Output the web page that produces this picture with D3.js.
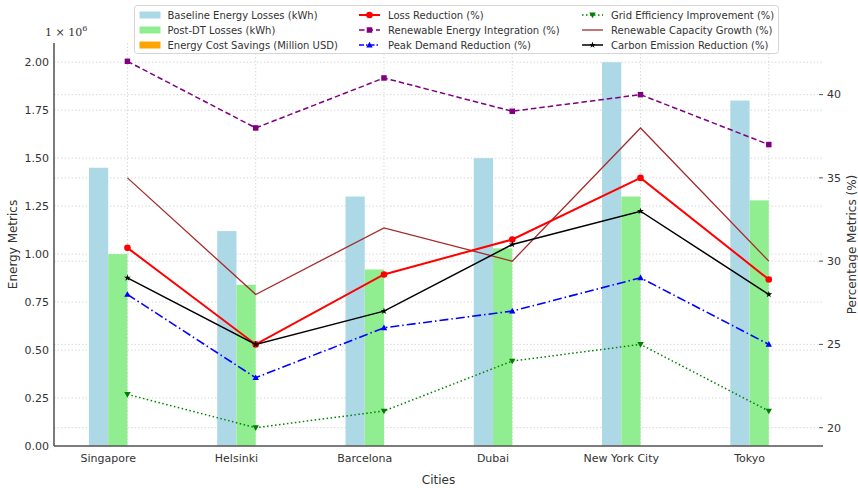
<!DOCTYPE html>
<html><head><meta charset="utf-8">
<script src="https://cdn.jsdelivr.net/npm/d3@7"></script>
<style>
body{margin:0;background:#fff;}
svg{display:block;font-family:"DejaVu Sans",sans-serif;}
</style></head>
<body><svg id="c" width="858" height="488"></svg>
<script>
const cities = ["Singapore","Helsinki","Barcelona","Dubai","New York City","Tokyo"];
const baselineLosses = [1.45e6,1.12e6,1.30e6,1.50e6,2.00e6,1.80e6];
const postDTLosses = [1.00e6,0.84e6,0.92e6,1.03e6,1.30e6,1.28e6];
const lossReduction = [30.8,25.0,29.2,31.3,35.0,28.9];
const renewableIntegration = [42,38,41,39,40,37];
const peakDemandReduction = [28,23,26,27,29,25];
const gridEfficiency = [22,20,21,24,25,21];
const renewableCapacityGrowth = [35,28,32,30,38,30];
const carbonReduction = [29,25,27,31,33,28];
const leftTicks = [0,0.25e6,0.5e6,0.75e6,1.0e6,1.25e6,1.5e6,1.75e6,2.0e6];
const rightTicks = [20,25,30,35,40];

const svg = d3.select("#c");
const L=54, R=823, T=43, B=446;
const w = 0.15;
const xMin = -w, xMax = cities.length-1+2*w, pad=(xMax-xMin)*0.05;
const x = d3.scaleLinear().domain([xMin-pad, xMax+pad]).range([L,R]);
const yL = d3.scaleLinear().domain([0, 2.1e6]).range([B,T]);
const yR = d3.scaleLinear().domain([18.9, 43.1]).range([B,T]);

// grids
const g = svg.append("g");
g.selectAll(".gl").data(leftTicks).join("line")
 .attr("x1",L).attr("x2",R-1).attr("y1",d=>yL(d)).attr("y2",d=>yL(d))
 .attr("stroke","#cfcfcf").attr("stroke-width",0.8).attr("stroke-dasharray","1.5,2");
g.selectAll(".gr").data(rightTicks).join("line")
 .attr("x1",L).attr("x2",R-1).attr("y1",d=>yR(d)).attr("y2",d=>yR(d))
 .attr("stroke","#cfcfcf").attr("stroke-width",0.8).attr("stroke-dasharray","1.5,2");
g.selectAll(".gv").data(cities).join("line")
 .attr("x1",(d,i)=>x(i+w)).attr("x2",(d,i)=>x(i+w)).attr("y1",T).attr("y2",B)
 .attr("stroke","#cfcfcf").attr("stroke-width",0.8).attr("stroke-dasharray","1.5,2");

// bars
svg.append("g").selectAll("rect").data(baselineLosses).join("rect")
 .attr("x",(d,i)=>x(i-w)).attr("width",x(w)-x(0)).attr("y",d=>yL(d)).attr("height",d=>B-yL(d))
 .attr("fill","#add8e6");
svg.append("g").selectAll("rect").data(postDTLosses).join("rect")
 .attr("x",(d,i)=>x(i)).attr("width",x(w)-x(0)).attr("y",d=>yL(d)).attr("height",d=>B-yL(d))
 .attr("fill","#90ee90");

// lines
const series = [
 {name:"Loss Reduction (%)", v:lossReduction, c:"#ff0000", lw:2, dash:null, m:"circle", ms:3.3},
 {name:"Renewable Energy Integration (%)", v:renewableIntegration, c:"#800080", lw:1.5, dash:"5.5,3", m:"square", ms:5.5},
 {name:"Peak Demand Reduction (%)", v:peakDemandReduction, c:"#0000ff", lw:1.6, dash:"9,3,1.5,3", m:"tri", ms:5},
 {name:"Grid Efficiency Improvement (%)", v:gridEfficiency, c:"#008000", lw:1.5, dash:"1.5,2.5", m:"trid", ms:5},
 {name:"Renewable Capacity Growth (%)", v:renewableCapacityGrowth, c:"#a52a2a", lw:1.3, dash:null, m:null},
 {name:"Carbon Emission Reduction (%)", v:carbonReduction, c:"#000000", lw:1.5, dash:null, m:"star", ms:3}
];
const order = [1,4,0,5,2,3];
function marker(sel, s, cx, cy){
  if(!s.m) return;
  if(s.m==="circle") sel.append("circle").attr("cx",cx).attr("cy",cy).attr("r",s.ms).attr("fill",s.c);
  else if(s.m==="square") sel.append("rect").attr("x",cx-s.ms/2).attr("y",cy-s.ms/2).attr("width",s.ms).attr("height",s.ms).attr("fill",s.c);
  else if(s.m==="tri") sel.append("path").attr("d",`M${cx},${cy-3.3}L${cx+3.2},${cy+2.4}L${cx-3.2},${cy+2.4}Z`).attr("fill",s.c);
  else if(s.m==="trid") sel.append("path").attr("d",`M${cx},${cy+3.3}L${cx+3.2},${cy-2.4}L${cx-3.2},${cy-2.4}Z`).attr("fill",s.c);
  else if(s.m==="star") sel.append("path").attr("d",d3.symbol(d3.symbolStar,14)()).attr("transform",`translate(${cx},${cy})`).attr("fill",s.c);
}
const lineGen = d3.line().x((d,i)=>x(i+w)).y(d=>yR(d));
order.forEach(k=>{
  const s = series[k];
  const gg = svg.append("g");
  gg.append("path").attr("d",lineGen(s.v)).attr("fill","none").attr("stroke",s.c)
   .attr("stroke-width",s.lw).attr("stroke-dasharray",s.dash);
  s.v.forEach((d,i)=>marker(gg,s,x(i+w),yR(d)));
});

// spines
svg.append("line").attr("x1",L).attr("x2",L).attr("y1",T).attr("y2",B).attr("stroke","#222").attr("stroke-width",1.2);
svg.append("line").attr("x1",L).attr("x2",R).attr("y1",B).attr("y2",B).attr("stroke","#555").attr("stroke-width",1.5);

// left ticks
svg.append("g").selectAll("text").data(leftTicks).join("text")
 .attr("x",L-5).attr("y",d=>yL(d)).attr("dy","0.35em").attr("text-anchor","end")
 .attr("font-size",11).attr("fill","#333").text(d=>(d/1e6).toFixed(2));
// right ticks
svg.append("g").selectAll("line").data(rightTicks).join("line")
 .attr("x1",R-4).attr("x2",R).attr("y1",d=>yR(d)).attr("y2",d=>yR(d)).attr("stroke","#555");
svg.append("g").selectAll("text").data(rightTicks).join("text")
 .attr("x",R+4).attr("y",d=>yR(d)).attr("dy","0.35em")
 .attr("font-size",11).attr("fill","#333").text(d=>d);
// x ticks
svg.append("g").selectAll("text").data(cities).join("text")
 .attr("x",(d,i)=>x(i)).attr("y",462).attr("text-anchor","middle")
 .attr("font-size",11).attr("fill","#333").text(d=>d);

// axis labels
svg.append("text").attr("x",(L+R)/2).attr("y",484).attr("text-anchor","middle").attr("font-size",12).attr("fill","#333").text("Cities");
svg.append("text").attr("transform",`translate(17,${(T+B)/2}) rotate(-90)`).attr("text-anchor","middle").attr("font-size",12).attr("fill","#333").text("Energy Metrics");
svg.append("text").attr("transform",`translate(856,${(T+B)/2}) rotate(-90)`).attr("text-anchor","middle").attr("font-size",12).attr("fill","#333").text("Percentage Metrics (%)");

// offset text
const off = svg.append("text").attr("x",45).attr("y",36).attr("font-family","DejaVu Serif, serif").attr("font-size",11).attr("fill","#333");
off.append("tspan").text("1 × 10");
off.append("tspan").attr("font-size",8).attr("dy",-5).text("6");

// legend
const lg = svg.append("g");
lg.append("rect").attr("x",134.5).attr("y",5.5).attr("width",644).attr("height",48).attr("rx",3)
 .attr("fill","white").attr("fill-opacity",0.8).attr("stroke","#d5d5d5");
const rows=[15,30,45];
const barLeg = [["Baseline Energy Losses (kWh)","#add8e6"],["Post-DT Losses (kWh)","#90ee90"],["Energy Cost Savings (Million USD)","#ffa500"]];
barLeg.forEach((b,i)=>{
  lg.append("rect").attr("x",139.5).attr("y",rows[i]-3.5).attr("width",21).attr("height",7).attr("fill",b[1]);
  lg.append("text").attr("x",167.5).attr("y",rows[i]).attr("dy","0.35em").attr("font-size",10).attr("fill","#333").text(b[0]);
});
const legCols = [[0,1,2],[3,4,5]];
const colX = [359,582];
legCols.forEach((col,ci)=>{
  col.forEach((k,ri)=>{
    const s=series[k]; const y=rows[ri]; const x0=colX[ci];
    lg.append("line").attr("x1",x0).attr("x2",x0+21).attr("y1",y).attr("y2",y).attr("stroke",s.c)
      .attr("stroke-width",s.lw).attr("stroke-dasharray",s.dash? (s.m==="tri"?"5,2,1.5,2":s.dash):null);
    marker(lg,s,x0+10.5,y);
    lg.append("text").attr("x",x0+29).attr("y",y).attr("dy","0.35em").attr("font-size",10).attr("fill","#333").text(s.name);
  });
});
</script></body></html>
